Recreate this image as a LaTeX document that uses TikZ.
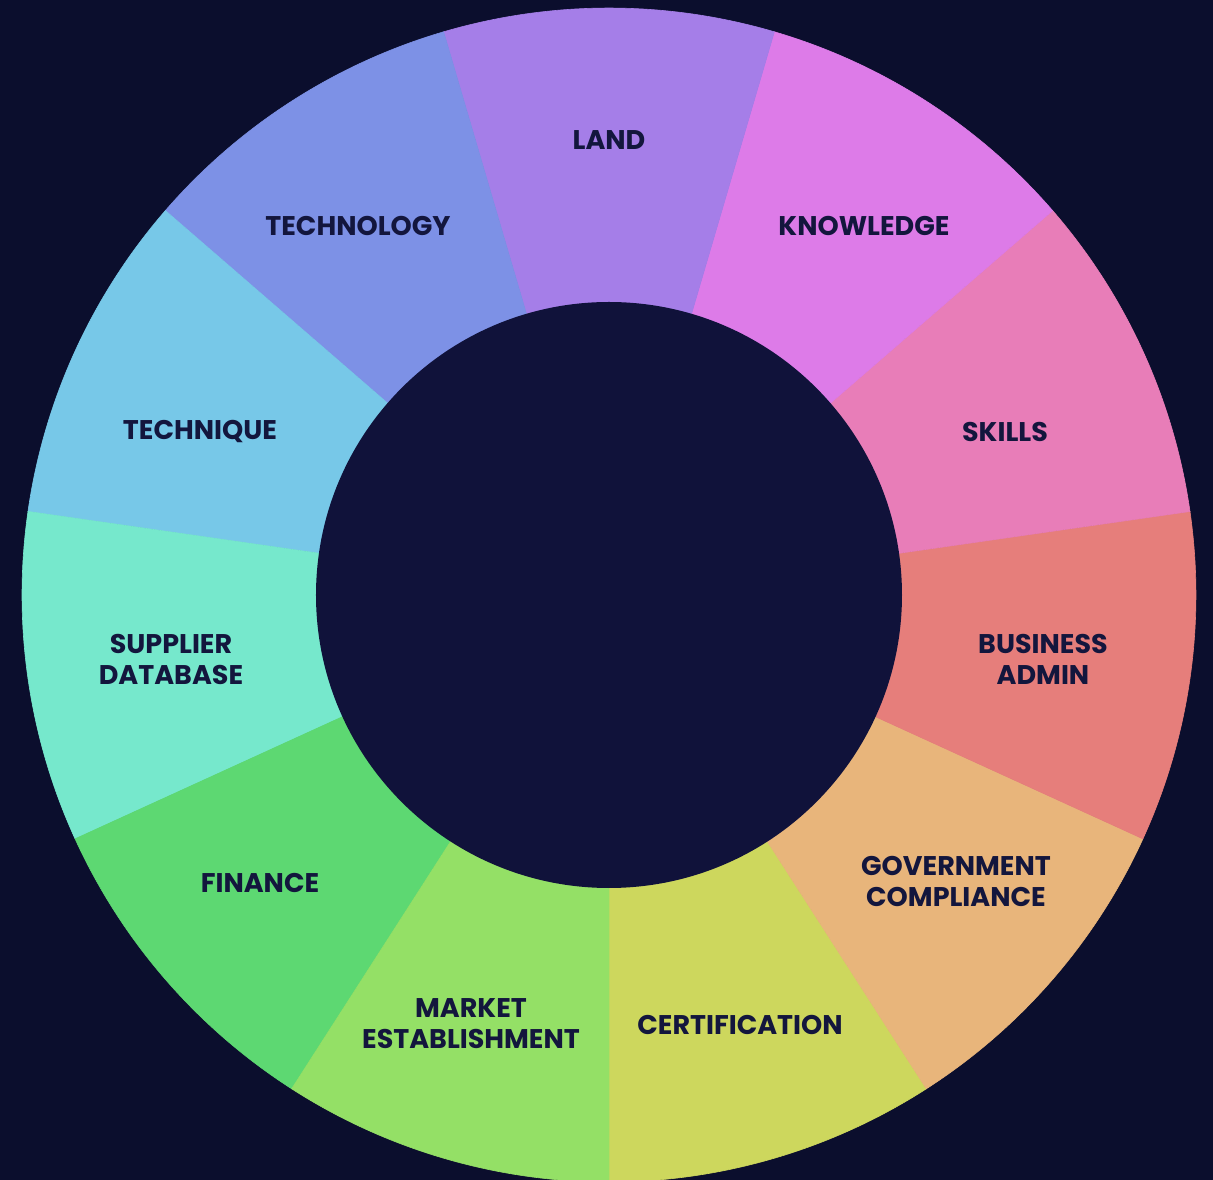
\documentclass[tikz,border=0pt]{standalone}
\usepackage{fontspec}
\setmainfont{Poppins}
\definecolor{bgc}{HTML}{0B0E2D}
\definecolor{innerc}{HTML}{10123A}
\definecolor{txtc}{HTML}{13163D}
\definecolor{cCert}{HTML}{CDD75D}
\definecolor{cGov}{HTML}{E8B57B}
\definecolor{cBus}{HTML}{E67E7B}
\definecolor{cSkill}{HTML}{E87DB8}
\definecolor{cKnow}{HTML}{DD7BE8}
\definecolor{cLand}{HTML}{A57EE8}
\definecolor{cTechno}{HTML}{7D91E6}
\definecolor{cTechq}{HTML}{77C8E8}
\definecolor{cSupp}{HTML}{76E8CC}
\definecolor{cFin}{HTML}{5DD872}
\definecolor{cMark}{HTML}{94E066}
\begin{document}
\begin{tikzpicture}[x=1pt,y=1pt,
  lbl/.style={text=txtc,font=\fontsize{27}{31}\selectfont\bfseries,align=center,inner sep=0pt}]
\useasboundingbox (-609,-585) rectangle (604,595);
\fill[bgc] (-609,-585) rectangle (604,595);
\foreach \c [count=\k from 0] in {cCert,cGov,cBus,cSkill,cKnow,cLand,cTechno,cTechq,cSupp,cFin,cMark}{
  \pgfmathsetmacro{\a}{-90+\k*360/11}
  \pgfmathsetmacro{\b}{-90+(\k+1)*360/11}
  \filldraw[fill=\c,draw=\c,line width=0.6pt] (0,0) -- (\a:587) arc[start angle=\a,end angle=\b,radius=587] -- cycle;
}
\fill[innerc] (0,0) circle[radius=293];
\node[lbl] (land) at (0,455) {LAND};
\node[lbl] (know) at (255,369) {KNOWLEDGE};
\node[lbl] (skills) at (396,163) {SKILLS};
\node[lbl] (bus) at (434,-64) {BUSINESS\\ADMIN};
\node[lbl] (gov) at (347,-286) {GOVERNMENT\\COMPLIANCE};
\node[lbl] (cert) at (131,-430) {CERTIFICATION};
\node[lbl] (mark) at (-138,-429) {MARKET\\ESTABLISHMENT};
\node[lbl] (fin) at (-349,-288) {FINANCE};
\node[lbl] (supp) at (-438,-64) {SUPPLIER\\DATABASE};
\node[lbl] (techq) at (-409,163) {TECHNIQUE};
\node[lbl] (techno) at (-251,369) {TECHNOLOGY};
\end{tikzpicture}
\end{document}
